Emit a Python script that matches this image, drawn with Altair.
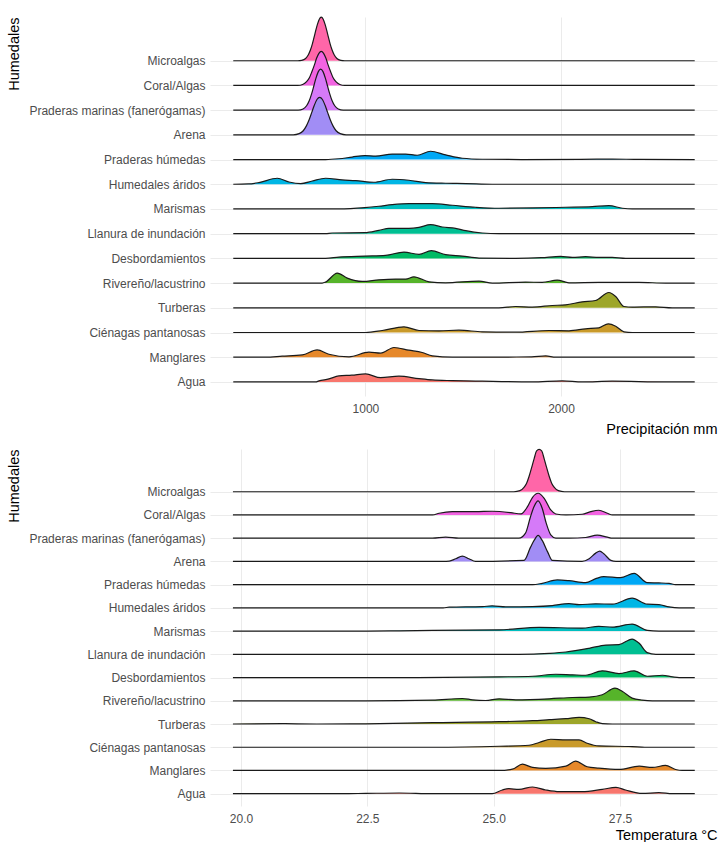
import altair as alt
import pandas as pd

# ---------------- categories & colours (top -> bottom) ----------------
CATEGORIES = ["Microalgas", "Coral/Algas", "Praderas marinas (fanerógamas)", "Arena",
              "Praderas húmedas", "Humedales áridos", "Marismas", "Llanura de inundación",
              "Desbordamientos", "Rivereño/lacustrino", "Turberas", "Ciénagas pantanosas",
              "Manglares", "Agua"]
COLORS = ["#FF66A8", "#F263E2", "#D57AF8", "#A18DF5", "#00A8F5", "#00B6E5", "#00BFC0",
          "#00BF92", "#00BA64", "#56B42A", "#9DA62A", "#C99A2A", "#E6882A", "#F8766D"]

PREC_RANGE = [324, 2684]
TEMP_RANGE = [19.84, 28.98]
PREC_TICKS = [1000, 2000]
TEMP_TICKS = [20.0, 22.5, 25.0, 27.5]

# ---------------- precipitation ridges (x = mm, h = ridge height) ----------------
p_microalgas_x = [654, 674, 694, 708, 719, 729, 741, 754, 764, 774, 784, 794, 807, 819, 829, 840, 854, 874, 894]
p_microalgas_h = [0, 0.4, 2.2, 5.9, 10.9, 17.1, 26.4, 36.1, 41.5, 43.5, 41.5, 36.1, 26.4, 17.1, 10.9, 5.9, 2.2, 0.4, 0]
p_coral_x = [654, 679, 699, 714, 726, 739, 750, 762, 774, 786, 798, 809, 822, 834, 849, 869, 894]
p_coral_h = [0, 1.0, 3.8, 8.0, 13.7, 20.6, 27.1, 32.1, 34, 32.1, 27.1, 20.6, 13.7, 8.0, 3.8, 1.0, 0]
p_pmarinas_x = [656, 681, 699, 713, 725, 737, 747, 759, 771, 783, 795, 805, 817, 829, 843, 861, 886]
p_pmarinas_h = [0, 1.2, 4.4, 9.6, 16.5, 24.9, 32, 38.5, 41, 38.5, 32, 24.9, 16.5, 9.6, 4.4, 1.2, 0]
p_arena_x = [631, 661, 682, 698, 712, 726, 738, 752, 766, 780, 794, 806, 820, 834, 850, 871, 901]
p_arena_h = [0, 1.2, 4.1, 9.0, 15.1, 22.7, 29.3, 35.3, 37.5, 35.3, 29.3, 22.7, 15.1, 9.0, 4.1, 1.2, 0]
p_phumedas_x = [796, 864, 932, 997, 1052, 1137, 1206, 1265, 1333, 1410, 1495, 1597, 1800, 2100, 2262, 2400]
p_phumedas_h = [0, 0.8, 2.5, 4, 3.5, 5.5, 5.5, 4.3, 8.3, 4.7, 1.3, 0.3, 0, 0.2, 0.5, 0.1]
p_aridos_x = [324, 400, 455, 549, 609, 669, 728, 796, 881, 950, 1043, 1137, 1222, 1308, 1410, 1513, 1649]
p_aridos_h = [0, 0.3, 1.7, 6, 2.3, 0.7, 3.3, 6, 4.3, 3.7, 2, 5, 4, 1.7, 1, 0.7, 0]
p_marismas_x = [864, 997, 1069, 1137, 1222, 1342, 1444, 1564, 1683, 1853, 2024, 2160, 2245, 2314, 2365]
p_marismas_h = [0, 1.3, 2.7, 4.3, 5.3, 5.3, 3.7, 1.7, 0.7, 1, 1.7, 2.3, 3.3, 0.7, 0]
p_llanura_x = [796, 830, 997, 1069, 1120, 1222, 1274, 1333, 1393, 1461, 1513, 1597, 1683]
p_llanura_h = [0, 0.7, 1, 3.3, 5.3, 5.3, 6.3, 9, 6.7, 5.3, 3, 0.7, 0]
p_desbord_x = [796, 864, 997, 1103, 1197, 1274, 1337, 1410, 1495, 1581, 1768, 1900, 1998, 2058, 2126, 2194, 2262, 2331]
p_desbord_h = [0, 1.3, 2.3, 3, 6.3, 4, 7.7, 3.7, 2.3, 0.3, 0, 0.7, 2, 1, 1.7, 1, 1, 0]
p_rivereno_x = [779, 796, 856, 907, 984, 1069, 1154, 1206, 1248, 1325, 1410, 1581, 1649, 1819, 1904, 1981, 2041, 2194, 2399, 2536]
p_rivereno_h = [0, 1, 10, 5, 1.7, 3.3, 4, 4, 6.3, 1.3, 0.3, 2, 0, 1, 0.7, 3, 0.3, 0.7, 0.7, 0]
p_turberas_x = [1683, 1768, 1853, 1956, 2024, 2109, 2177, 2245, 2280, 2322, 2365, 2484, 2569]
p_turberas_h = [0, 1.3, 0.7, 2.3, 3, 6, 7.3, 15.3, 11.3, 1.3, 0.7, 1, 0]
p_cienagas_x = [1001, 1086, 1197, 1274, 1376, 1478, 1597, 1768, 1939, 2041, 2126, 2194, 2242, 2280, 2322, 2365]
p_cienagas_h = [0, 2, 5.7, 2, 1.7, 2.3, 0.7, 0.3, 2, 1.7, 3.7, 4.7, 8.7, 6.3, 0.7, 0]
p_manglares_x = [489, 574, 677, 753, 813, 916, 1018, 1078, 1146, 1222, 1290, 1342, 1444, 1850, 1922, 1973]
p_manglares_h = [0, 1, 2.3, 7.3, 3, 0.4, 5, 4, 9.7, 7, 4.7, 1.3, 0, 0.3, 1.3, 0]
p_agua_x = [745, 762, 813, 864, 930, 1001, 1078, 1171, 1274, 1342, 1444, 1597, 1853, 2007, 2109, 2262, 2536]
p_agua_h = [0, 1, 3, 6, 6.7, 8, 4.2, 5.7, 3.3, 2, 1.3, 0.7, 0, 1, 0, 0.7, 0]

# ---------------- temperature ridges (x = °C, h = ridge height) ----------------
t_microalgas_x = [25.40, 25.52, 25.60, 25.65, 25.70, 25.76, 25.80, 25.85, 25.90, 25.95, 26.00, 26.04, 26.10, 26.15, 26.20, 26.28, 26.40]
t_microalgas_h = [0, 1.1, 4.3, 8.3, 15.3, 25.7, 32.9, 40.8, 42.4, 40.8, 32.9, 25.7, 15.3, 8.3, 4.3, 1.1, 0]
t_coral_x = [23.79, 23.92, 24.18, 24.64, 24.97, 25.34, 25.54, 25.67, 25.77, 25.88, 26.00, 26.13, 26.23, 26.43, 26.75, 26.92, 27.08, 27.25, 27.35]
t_coral_h = [0, 1.7, 3.3, 3.3, 3.7, 2.3, 1, 8.3, 17.7, 21.7, 16.7, 5, 1, 0, 0.7, 3.3, 4.7, 1.7, 0]
t_pmarinas_x = [23.79, 24.05, 24.31, 25.50, 25.63, 25.73, 25.80, 25.88, 25.96, 26.04, 26.13, 26.23, 26.50, 26.82, 27.05, 27.25, 27.35]
t_pmarinas_h = [0, 1, 0, 0, 5, 21.7, 31.7, 37.3, 30, 15, 3.3, 0, 0, 0.7, 3, 1, 0]
t_arena_x = [24.0, 24.12, 24.25, 24.38, 24.51, 24.64, 25.60, 25.73, 25.80, 25.88, 25.96, 26.07, 26.16, 26.75, 26.89, 27.02, 27.10, 27.18, 27.32, 27.42]
t_arena_h = [0, 0.3, 2.7, 5.3, 2.7, 0, 1, 14.3, 21, 26, 21, 9.3, 1, 0, 2.7, 8.3, 10.3, 7.7, 1, 0]
t_phumedas_x = [25.77, 25.96, 26.26, 26.49, 26.82, 27.02, 27.18, 27.51, 27.78, 28.04, 28.27, 28.47, 28.60]
t_phumedas_h = [0, 1.3, 4.7, 4, 2, 6, 8, 7, 11.3, 2, 1.7, 1.3, 0]
t_aridos_x = [24.0, 24.12, 24.78, 24.97, 25.24, 25.77, 26.16, 26.49, 26.69, 27.02, 27.35, 27.74, 28.04, 28.27, 28.47, 28.67]
t_aridos_h = [0, 0.7, 1.3, 2, 1, 1.3, 2.3, 4.3, 3.3, 4, 3.7, 9.7, 3.7, 3.3, 1, 0]
t_marismas_x = [22.5, 23.13, 23.79, 25.11, 25.90, 26.75, 27.08, 27.35, 27.74, 28.04, 28.27]
t_marismas_h = [0, 0.3, 0.7, 1.3, 3.7, 3, 4.7, 4, 7, 0.7, 0]
t_llanura_x = [25.5, 26.10, 26.43, 26.89, 27.22, 27.48, 27.74, 27.88, 28.04, 28.21]
t_llanura_h = [0, 1, 2.3, 6, 9.3, 9.7, 15.3, 11, 1.7, 0]
t_desbord_x = [23.5, 25.11, 25.77, 26.23, 26.56, 26.82, 27.15, 27.48, 27.78, 28.04, 28.34, 28.54, 28.67]
t_desbord_h = [0, 0.7, 1.3, 3.3, 2.7, 2.3, 6.7, 4, 6.7, 1.3, 2.3, 0.7, 0]
t_rivereno_x = [22.47, 23.79, 24.38, 24.58, 24.84, 25.11, 25.44, 26.10, 26.56, 26.89, 27.15, 27.40, 27.55, 27.74, 27.94, 28.14]
t_rivereno_h = [0, 0.7, 2.3, 1, 0.3, 2, 1, 2, 3.3, 3.7, 6, 12.7, 9.3, 2.7, 0.7, 0]
t_turberas_x = [19.84, 20.82, 21.5, 22.47, 23.79, 25.11, 25.77, 26.10, 26.43, 26.69, 26.89, 27.02, 27.15, 27.35]
t_turberas_h = [0, 0.3, 0, 0.2, 1.3, 2.3, 3.3, 4.3, 5.3, 6.7, 5.3, 2.3, 0.3, 0]
t_cienagas_x = [23.79, 25.11, 25.70, 25.90, 26.13, 26.43, 26.69, 26.85, 27.08, 27.74, 27.99]
t_cienagas_h = [0, 1, 2, 4.7, 8, 7.3, 7.3, 4, 1.3, 0.7, 0]
t_manglares_x = [25.11, 25.37, 25.57, 25.77, 26.03, 26.43, 26.62, 26.85, 27.08, 27.48, 27.88, 28.14, 28.40, 28.60, 28.73]
t_manglares_h = [0, 1.3, 6.3, 3, 2, 4.3, 9.3, 3.7, 2.3, 1, 4.3, 3, 5, 1, 0]
t_agua_x = [22.0, 22.47, 23.13, 23.79, 24.97, 25.17, 25.30, 25.50, 25.77, 26.03, 26.30, 26.75, 27.15, 27.42, 27.61, 27.94, 28.27, 28.54]
t_agua_h = [0, 0.3, 0.7, 0, 0, 3.7, 5, 4.3, 6.7, 3.7, 2, 2, 4.3, 6.3, 3.7, 0.3, 1, 0]

PREC = [(p_microalgas_x, p_microalgas_h), (p_coral_x, p_coral_h), (p_pmarinas_x, p_pmarinas_h),
        (p_arena_x, p_arena_h), (p_phumedas_x, p_phumedas_h), (p_aridos_x, p_aridos_h),
        (p_marismas_x, p_marismas_h), (p_llanura_x, p_llanura_h), (p_desbord_x, p_desbord_h),
        (p_rivereno_x, p_rivereno_h), (p_turberas_x, p_turberas_h), (p_cienagas_x, p_cienagas_h),
        (p_manglares_x, p_manglares_h), (p_agua_x, p_agua_h)]
TEMP = [(t_microalgas_x, t_microalgas_h), (t_coral_x, t_coral_h), (t_pmarinas_x, t_pmarinas_h),
        (t_arena_x, t_arena_h), (t_phumedas_x, t_phumedas_h), (t_aridos_x, t_aridos_h),
        (t_marismas_x, t_marismas_h), (t_llanura_x, t_llanura_h), (t_desbord_x, t_desbord_h),
        (t_rivereno_x, t_rivereno_h), (t_turberas_x, t_turberas_h), (t_cienagas_x, t_cienagas_h),
        (t_manglares_x, t_manglares_h), (t_agua_x, t_agua_h)]

N = len(CATEGORIES)
ROW_NAMES = list(reversed(CATEGORIES))  # row 0 = Agua (bottom)
LABEL_EXPR = "[" + ",".join("'" + n + "'" for n in ROW_NAMES) + "][datum.value]"
FONT = "Liberation Sans"


def build_df(series, rng):
    rows = []
    for i, (cat, (xs, hs)) in enumerate(zip(CATEGORIES, series)):
        xs, hs = list(xs), list(hs)
        if xs[0] > rng[0]:
            xs, hs = [rng[0]] + xs, [0] + hs
        if xs[-1] < rng[1]:
            xs, hs = xs + [rng[1]], hs + [0]
        for x, h in zip(xs, hs):
            rows.append({"cat": cat, "row": N - 1 - i, "x": x, "h": h})
    return pd.DataFrame(rows)


def panel(df, xdomain, ticks, fmt, xtitle, ydomain, width, height, scale, tpad):
    common = dict(grid=True, gridColor="#EBEBEB", gridWidth=1, domain=False, ticks=False,
                  labelFont=FONT, titleFont=FONT, labelColor="#4D4D4D", labelFontSize=12,
                  titleFontSize=14.5, titleFontWeight="normal", titleColor="#000000",
                  titleAnchor="end")
    xaxis = alt.Axis(values=ticks, format=fmt, title=xtitle, labelPadding=7, titlePadding=tpad, **common)
    yaxis = alt.Axis(values=list(range(N)), labelExpr=LABEL_EXPR, title="Humedales",
                     labelPadding=5, titlePadding=7, **common)
    x = alt.X("x:Q", scale=alt.Scale(domain=xdomain, nice=False, zero=False), axis=xaxis)
    y = alt.Y("top:Q", scale=alt.Scale(domain=ydomain, nice=False, zero=False), axis=yaxis)
    base = alt.Chart(df).transform_calculate(top=f"datum.row + datum.h / {scale}")
    layers = []
    for i, cat in enumerate(CATEGORIES):
        sub = base.transform_filter(alt.FieldEqualPredicate(field="cat", equal=cat))
        layers.append(sub.mark_area(interpolate="monotone", color=COLORS[i], opacity=1)
                      .encode(x=x, y=y, y2=alt.Y2("row:Q")))
        layers.append(sub.mark_line(interpolate="monotone", color="#1a1a1a", strokeWidth=1.2)
                      .encode(x=x, y=y))
    return alt.layer(*layers).properties(width=width, height=height)


prec_df = build_df(PREC, PREC_RANGE)
temp_df = build_df(TEMP, TEMP_RANGE)

top = panel(prec_df, [205, 2798], PREC_TICKS, "d", "Precipitación mm",
            [-0.57, 14.77], 507, 379, 24.7, 8)
bottom = panel(temp_df, [19.386, 29.42], TEMP_TICKS, ".1f", "Temperatura °C",
               [-0.53, 14.84], 507, 357, 23.23, 4)

chart = (alt.vconcat(top, bottom, spacing=10)
         .properties(padding={"left": 6, "top": 14, "right": 2, "bottom": 0},
                     background="white")
         .configure_view(strokeWidth=0, stroke="transparent"))

chart.save("out.html", embed_options={"renderer": "svg", "actions": False})
